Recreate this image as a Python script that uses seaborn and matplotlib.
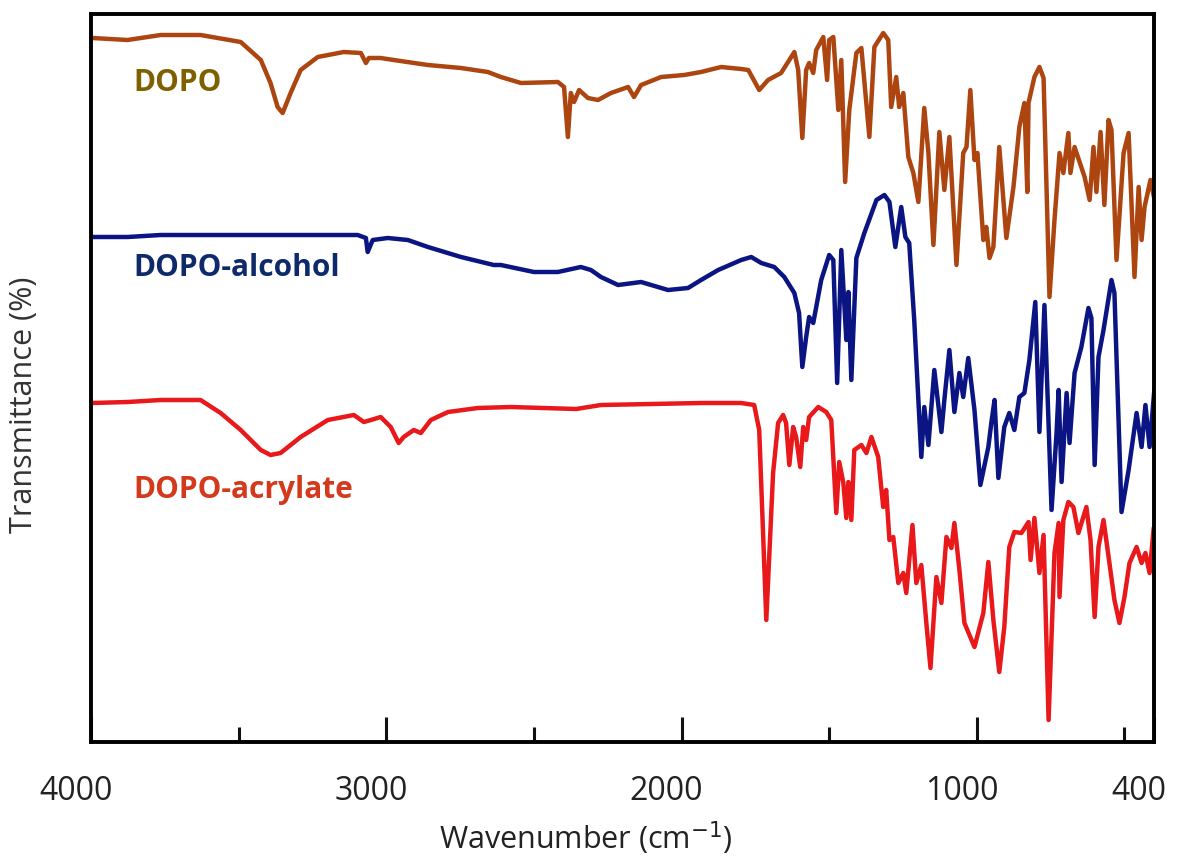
import matplotlib
matplotlib.use("Agg")
import matplotlib.pyplot as plt
from matplotlib.transforms import ScaledTranslation
import seaborn as sns
import pandas as pd

# ---- data (wavenumber in cm-1, transmittance in arbitrary stacked units) ----
dopo_wn = [3995, 3876, 3764, 3629, 3493, 3425, 3392, 3368, 3351, 3324, 3290, 3232, 3144, 3086,
           3069, 3059, 3019, 2975, 2859, 2747, 2656, 2612, 2544, 2419, 2398, 2385, 2375, 2364,
           2347, 2317, 2283, 2239, 2181, 2161, 2137, 2069, 1991, 1934, 1866, 1798, 1774, 1737,
           1707, 1663, 1635, 1618, 1605, 1591, 1578, 1568, 1554, 1544, 1520, 1507, 1500, 1486,
           1469, 1459, 1446, 1432, 1408, 1391, 1364, 1347, 1317, 1300, 1290, 1273, 1263, 1249,
           1232, 1215, 1198, 1178, 1164, 1147, 1127, 1110, 1093, 1069, 1046, 1035, 1022, 1008,
           998, 978, 968, 957, 944, 924, 900, 876, 856, 839, 829, 825, 805, 788, 774, 754, 737,
           720, 707, 690, 683, 669, 635, 618, 605, 595, 581, 568, 554, 544, 527, 503, 486, 466,
           452, 442, 432, 412, 398]
dopo_t = [704, 702, 707, 707, 700, 682, 659, 635, 629, 649, 672, 685, 690, 689,
          679, 684, 684, 682, 677, 674, 670, 665, 659, 660, 655, 605, 649, 640,
          652, 644, 642, 649, 655, 645, 657, 665, 667, 670, 675, 673, 672, 652,
          662, 669, 682, 690, 672, 604, 672, 679, 669, 692, 705, 662, 702, 705,
          632, 682, 560, 632, 689, 694, 605, 695, 709, 702, 635, 665, 635, 649,
          585, 569, 540, 634, 589, 497, 610, 552, 605, 477, 589, 595, 652, 582,
          589, 502, 515, 484, 495, 595, 504, 555, 615, 639, 550, 639, 665, 675, 664, 445, 522,
          589, 569, 609, 569, 595, 565, 542, 595, 550, 610, 537, 622, 612, 482, 589, 609, 465,
          555, 502, 535, 562, 542]

alcohol_wn = [3995, 3876, 3764, 3537, 3313, 3097, 3069, 3063, 3046, 2995, 2927, 2859, 2747, 2636,
              2612, 2500, 2419, 2341, 2307, 2273, 2215, 2137, 2046, 1978, 1934, 1876, 1798, 1764,
              1730, 1686, 1652, 1618, 1602, 1591, 1578, 1568, 1554, 1527, 1500, 1486, 1473, 1459,
              1442, 1435, 1425, 1408, 1381, 1340, 1313, 1296, 1276, 1256, 1242, 1229, 1212, 1188,
              1178, 1164, 1144, 1120, 1110, 1093, 1076, 1059, 1046, 1029, 1008, 988, 961, 951,
              940, 927, 907, 890, 873, 856, 839, 822, 802, 788, 771, 747, 730, 723, 713, 696,
              686, 669, 646, 622, 612, 601, 588, 571, 544, 534, 510, 486, 459, 442, 429, 415, 398]
alcohol_t = [505, 505, 507, 507, 507, 507, 504, 490, 502, 504, 502, 495, 485, 477,
             477, 470, 470, 475, 472, 465, 457, 460, 452, 454, 462, 472, 482, 485,
             479, 475, 465, 449, 429, 375, 405, 425, 419, 462, 487, 482, 359, 492,
             402, 450, 362, 484, 509, 542, 547, 540, 495, 535, 505, 499, 422, 285,
             335, 297, 372, 310, 342, 392, 330, 369, 345, 384, 332, 257, 295, 319,
             342, 264, 315, 329, 312, 345, 349, 382, 440, 310, 437, 232, 309, 352, 260, 349,
             299, 369, 395, 434, 424, 277, 385, 412, 462, 449, 230, 272, 329, 295, 337, 295, 355]

acrylate_wn = [3995, 3876, 3764, 3629, 3561, 3493, 3425, 3392, 3358, 3290, 3198, 3110, 3076, 3052,
               3019, 2985, 2958, 2941, 2907, 2883, 2849, 2791, 2690, 2578, 2357, 2273, 2103, 1934,
               1798, 1754, 1737, 1713, 1690, 1673, 1656, 1646, 1635, 1622, 1612, 1598, 1588, 1578,
               1568, 1537, 1510, 1493, 1476, 1466, 1452, 1442, 1435, 1425, 1415, 1391, 1374, 1357,
               1334, 1317, 1307, 1296, 1283, 1266, 1249, 1239, 1218, 1205, 1188, 1171, 1157, 1137,
               1120, 1103, 1086, 1076, 1059, 1042, 1008, 978, 961, 944, 924, 907, 890, 873, 849,
               825, 818, 805, 788, 774, 757, 737, 723, 720, 707, 690, 673, 656, 629, 615, 601,
               588, 571, 551, 534, 517, 500, 483, 459, 442, 429, 415, 401]
acrylate_t = [339, 340, 342, 342, 329, 312, 292, 287, 289, 305, 322, 327, 320, 322,
              325, 315, 299, 305, 312, 309, 322, 330, 334, 335, 333, 337, 338, 339,
              339, 337, 312, 122, 269, 319, 327, 319, 277, 315, 305, 275, 315, 302,
              325, 335, 330, 322, 229, 280, 259, 224, 260, 222, 292, 297, 289, 305,
              285, 235, 252, 202, 205, 159, 169, 149, 217, 159, 177, 119, 74, 165,
              139, 205, 194, 219, 172, 119, 95, 129, 180, 122, 70, 115, 195, 210, 209,
              220, 182, 224, 169, 207, 22, 189, 219, 145, 222, 240, 235, 209, 235, 202, 125,
              195, 222, 179, 142, 119, 145, 179, 195, 179, 189, 169, 214]

series_names = ["DOPO", "DOPO-alcohol", "DOPO-acrylate"]
line_colors = {"DOPO": "#ad4510", "DOPO-alcohol": "#0a1482", "DOPO-acrylate": "#e8181b"}
text_colors = {"DOPO": "#7f6000", "DOPO-alcohol": "#0e2a6b", "DOPO-acrylate": "#d5391c"}
label_pos = {"DOPO": (3856, 659), "DOPO-alcohol": (3856, 474), "DOPO-acrylate": (3856, 252)}

df = pd.concat([
    pd.DataFrame({"wn": dopo_wn, "t": dopo_t, "sample": "DOPO"}),
    pd.DataFrame({"wn": alcohol_wn, "t": alcohol_t, "sample": "DOPO-alcohol"}),
    pd.DataFrame({"wn": acrylate_wn, "t": acrylate_t, "sample": "DOPO-acrylate"}),
], ignore_index=True)

sns.set_style("white")
plt.rcParams["font.family"] = ["Open Sans", "DejaVu Sans"]

fig = plt.figure(figsize=(11.79, 8.58), dpi=100)
ax = fig.add_axes([91 / 1179, 116 / 858, 1063 / 1179, 728 / 858])

sns.lineplot(data=df, x="wn", y="t", hue="sample", palette=line_colors,
             estimator=None, sort=True, linewidth=3.2, legend=False, ax=ax)

ax.set_xlim(4000, 400)
ax.set_ylim(0, 728)
ax.set_yticks([])
ax.set_xticks([4000, 3000, 2000, 1000, 400])
ax.set_xticklabels(["4000", "3000", "2000", "1000", "400"])
ax.set_xticks([3500, 2500, 1500, 500], minor=True)
ax.tick_params(axis="x", which="both", bottom=True, top=False)
ax.tick_params(axis="x", which="major", direction="in", length=18, width=2.2,
               labelsize=23, pad=24, colors="#111111", labelcolor="#222222")
ax.tick_params(axis="x", which="minor", direction="in", length=11, width=2.2, colors="#111111")
offset = ScaledTranslation(-15 / 100, 0, fig.dpi_scale_trans)
for lab in ax.get_xticklabels():
    lab.set_transform(lab.get_transform() + offset)

for sp in ax.spines.values():
    sp.set_visible(True)
    sp.set_color("#000000")
    sp.set_linewidth(2.8)

ax.set_xlabel("Wavenumber (cm$^{-1}$)", fontsize=22, color="#222222")
ax.xaxis.set_label_coords(0.465, -0.107)
ax.set_ylabel("Transmittance (%)", fontsize=22, color="#333333")
ax.yaxis.set_label_coords(-0.049, 0.463)

for name in series_names:
    x, y = label_pos[name]
    ax.text(x, y, name, ha="left", va="center", fontsize=21.5, fontweight="bold",
            color=text_colors[name])

fig.savefig("out.png", dpi=100, facecolor="white")
